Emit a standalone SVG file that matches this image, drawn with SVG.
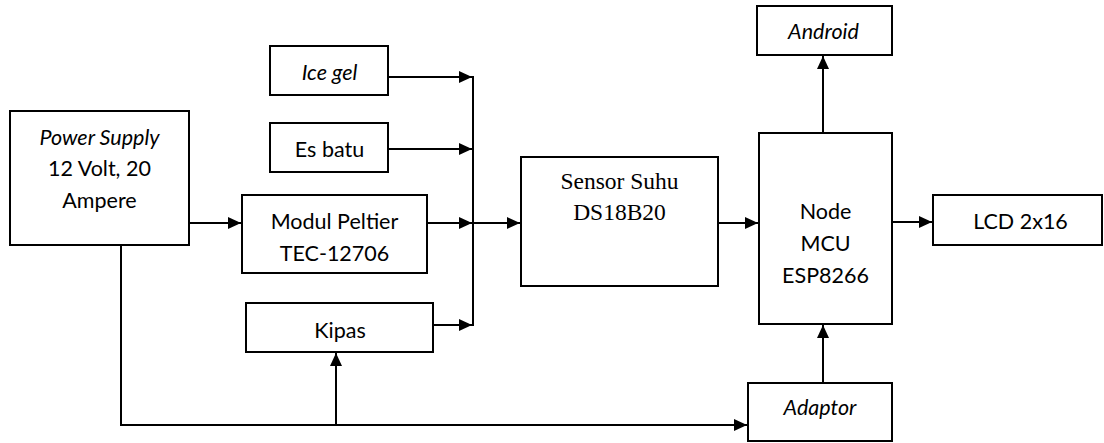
<svg xmlns="http://www.w3.org/2000/svg" width="1104" height="443" viewBox="0 0 1104 443">
<style>
.box{fill:#fff;stroke:#000;stroke-width:2}
.t{font-family:Lato,"Noto Sans",sans-serif;font-size:21.5px;fill:#000;text-anchor:middle}
.i{font-style:italic}
.s{font-family:"Liberation Serif","Times New Roman",serif;font-size:23.5px;fill:#000;text-anchor:middle}
.c{fill:none;stroke:#000;stroke-width:2}
</style>
<defs>
<marker id="ah" markerUnits="userSpaceOnUse" markerWidth="14" markerHeight="14" refX="13" refY="6" orient="auto">
<path d="M0,0 L13,6 L0,12 z" fill="#000"/>
</marker>
</defs>
<rect width="1104" height="443" fill="#fff"/>
<g id="connectors">
<path class="c" d="M189,223 H241" marker-end="url(#ah)"/>
<path class="c" d="M388,77 H472" marker-end="url(#ah)"/>
<path class="c" d="M388,149 H472" marker-end="url(#ah)"/>
<path class="c" d="M427,223 H472" marker-end="url(#ah)"/>
<path class="c" d="M433,325 H472" marker-end="url(#ah)"/>
<path class="c" d="M473,76 V326"/>
<path class="c" d="M473,223 H520" marker-end="url(#ah)"/>
<path class="c" d="M718,223 H758" marker-end="url(#ah)"/>
<path class="c" d="M823,133 V56" marker-end="url(#ah)"/>
<path class="c" d="M892,222 H932" marker-end="url(#ah)"/>
<path class="c" d="M121,245 V425 H747" marker-end="url(#ah)"/>
<path class="c" d="M336,425 V353" marker-end="url(#ah)"/>
<path class="c" d="M823,383 V325" marker-end="url(#ah)"/>
</g>
<g id="power">
<rect class="box" x="10" y="111" width="179" height="134"/>
<text class="t i" x="99.5" y="145">Power Supply</text>
<text class="t" x="99.5" y="176">12 Volt, 20</text>
<text class="t" x="99.5" y="208">Ampere</text>
</g>
<g id="icegel">
<rect class="box" x="270" y="46" width="118" height="49"/>
<text class="t i" x="329.5" y="80">Ice gel</text>
</g>
<g id="esbatu">
<rect class="box" x="270" y="123" width="118" height="49"/>
<text class="t" x="329.5" y="157">Es batu</text>
</g>
<g id="peltier">
<rect class="box" x="242" y="195" width="185" height="78"/>
<text class="t" x="334.5" y="229">Modul Peltier</text>
<text class="t" x="334.5" y="261">TEC-12706</text>
</g>
<g id="kipas">
<rect class="box" x="246" y="303" width="187" height="49"/>
<text class="t" x="340" y="338">Kipas</text>
</g>
<g id="sensor">
<rect class="box" x="521" y="157" width="197" height="129"/>
<text class="s" x="619.5" y="189">Sensor Suhu</text>
<text class="s" x="619.5" y="220">DS18B20</text>
</g>
<g id="node">
<rect class="box" x="759" y="133" width="133" height="191"/>
<text class="t" x="825.5" y="219">Node</text>
<text class="t" x="825.5" y="251">MCU</text>
<text class="t" x="825.5" y="283">ESP8266</text>
</g>
<g id="android">
<rect class="box" x="757" y="6" width="135" height="49"/>
<text class="t i" x="823.5" y="39">Android</text>
</g>
<g id="lcd">
<rect class="box" x="933" y="195" width="169" height="50"/>
<text class="t" x="1020.5" y="229">LCD 2x16</text>
</g>
<g id="adaptor">
<rect class="box" x="748" y="383" width="144" height="58"/>
<text class="t i" x="820" y="415">Adaptor</text>
</g>
</svg>
